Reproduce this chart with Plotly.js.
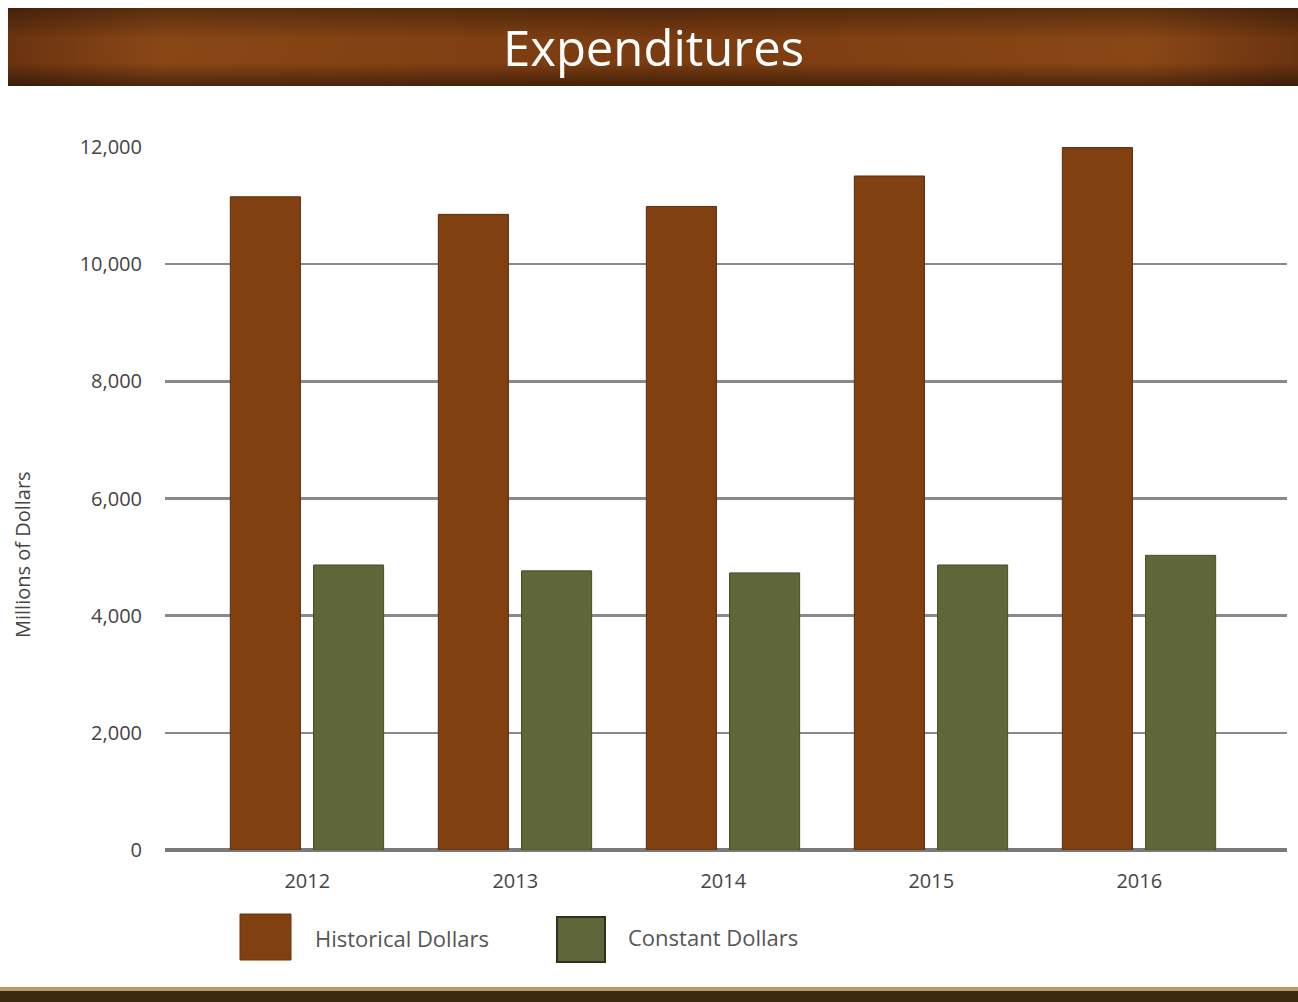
<!DOCTYPE html>
<html>
<head>
<meta charset="utf-8">
<script src="https://cdn.plot.ly/plotly-3.0.1.min.js"></script>
<style>html,body{margin:0;padding:0;background:#fff;}#chart{width:1298px;height:1002px;}</style>
</head>
<body>
<div id="chart"></div>
<script>
const years = ["2012", "2013", "2014", "2015", "2016"];
const historicalDollars = [11150, 10850, 10985, 11505, 11990];
const constantDollars = [4865, 4765, 4730, 4865, 5030];
const yTickValues = [0, 2000, 4000, 6000, 8000, 10000, 12000];
const yTickLabels = ["0", "2,000", "4,000", "6,000", "8,000", "10,000", "12,000"];
const seriesNames = ["Historical Dollars", "Constant Dollars"];

const FONT = "'Open Sans', 'Noto Sans', sans-serif";
const BROWN = "#804010";
const OLIVE = "#5f6639";

function svgUri(svg){ return "data:image/svg+xml;charset=utf-8," + encodeURIComponent(svg); }
const titleBar = svgUri('<svg xmlns="http://www.w3.org/2000/svg" width="1290" height="78" preserveAspectRatio="none"><defs>' +
  '<linearGradient id="h" x1="0" x2="1" y1="0" y2="0"><stop offset="0" stop-color="#6a3310"/><stop offset="0.12" stop-color="#8a4716"/><stop offset="0.5" stop-color="#7a3b10"/><stop offset="0.88" stop-color="#8a4716"/><stop offset="1" stop-color="#6a3310"/></linearGradient>' +
  '<linearGradient id="v" x1="0" x2="0" y1="0" y2="1"><stop offset="0" stop-color="#000" stop-opacity="0.35"/><stop offset="0.4" stop-color="#000" stop-opacity="0"/><stop offset="0.7" stop-color="#000" stop-opacity="0"/><stop offset="1" stop-color="#000" stop-opacity="0.45"/></linearGradient></defs>' +
  '<rect width="1290" height="78" fill="url(#h)"/><rect width="1290" height="78" fill="url(#v)"/></svg>');
const bottomBar = svgUri('<svg xmlns="http://www.w3.org/2000/svg" width="1298" height="16" preserveAspectRatio="none">' +
  '<rect width="1298" height="16" fill="#3a2a0e"/><rect width="1298" height="4" fill="#b79a68"/></svg>');

const traces = [
  { type: "bar", name: seriesNames[0], x: years, y: historicalDollars,
    marker: { color: BROWN, line: { color: "#5c2c0a", width: 1 } },
    width: 0.337, offset: -0.37, showlegend: false, hoverinfo: "x+y+name" },
  { type: "bar", name: seriesNames[1], x: years, y: constantDollars,
    marker: { color: OLIVE, line: { color: "#474d2a", width: 1 } },
    width: 0.337, offset: 0.03, showlegend: false, hoverinfo: "x+y+name" }
];

const layout = {
  width: 1298, height: 1002,
  paper_bgcolor: "#ffffff", plot_bgcolor: "#ffffff",
  margin: { l: 165, r: 11, t: 147, b: 152 },
  font: { family: FONT, color: "#444" },
  barmode: "overlay",
  showlegend: false,
  xaxis: {
    type: "category", range: [-0.684, 4.71],
    showgrid: false, zeroline: false, showline: false,
    ticks: "", ticklabelstandoff: 17,
    tickfont: { family: FONT, size: 20, color: "#444" }
  },
  yaxis: {
    range: [0, 12000], tickvals: yTickValues, ticktext: yTickLabels,
    showgrid: true, gridcolor: "#8a8a8a", gridwidth: 2.5,
    zeroline: true, zerolinecolor: "#7a7a7a", zerolinewidth: 3.5,
    showline: false, ticks: "", ticklabelstandoff: 22,
    tickfont: { family: FONT, size: 20, color: "#444" }
  },
  images: [
    { source: titleBar, xref: "paper", yref: "paper", x: (8-165)/1122, y: (850-8)/703, sizex: 1290/1122, sizey: 78/703,
      xanchor: "left", yanchor: "top", sizing: "stretch", layer: "below" },
    { source: bottomBar, xref: "paper", yref: "paper", x: -165/1122, y: (850-987)/703, sizex: 1298/1122, sizey: 16/703,
      xanchor: "left", yanchor: "top", sizing: "stretch", layer: "below" }
  ],
  shapes: [
    { type: "rect", xref: "paper", yref: "paper", x0: (240-165)/1122, x1: (291-165)/1122, y0: (850-960)/703, y1: (850-914)/703,
      fillcolor: BROWN, line: { color: "#6a320c", width: 1 } },
    { type: "rect", xref: "paper", yref: "paper", x0: (557-165)/1122, x1: (605-165)/1122, y0: (850-962)/703, y1: (850-917)/703,
      fillcolor: OLIVE, line: { color: "#2e3218", width: 2 } }
  ],
  annotations: [
    { text: "Expenditures", xref: "paper", yref: "paper", x: (653-165)/1122, y: (850-47)/703,
      showarrow: false, xanchor: "center", yanchor: "middle",
      font: { family: FONT, size: 49, color: "#ffffff" } },
    { text: "Millions of Dollars", xref: "paper", yref: "paper", x: (22-165)/1122, y: (850-555)/703,
      showarrow: false, textangle: -90, xanchor: "center", yanchor: "middle",
      font: { family: FONT, size: 20, color: "#444" } },
    { text: seriesNames[0], xref: "paper", yref: "paper", x: (313-165)/1122, y: (850-938)/703,
      showarrow: false, xanchor: "left", yanchor: "middle",
      font: { family: FONT, size: 22, color: "#555" } },
    { text: seriesNames[1], xref: "paper", yref: "paper", x: (626-165)/1122, y: (850-937)/703,
      showarrow: false, xanchor: "left", yanchor: "middle",
      font: { family: FONT, size: 22, color: "#555" } }
  ]
};

Plotly.newPlot("chart", traces, layout, { displayModeBar: false, staticPlot: true });
</script>
</body>
</html>
